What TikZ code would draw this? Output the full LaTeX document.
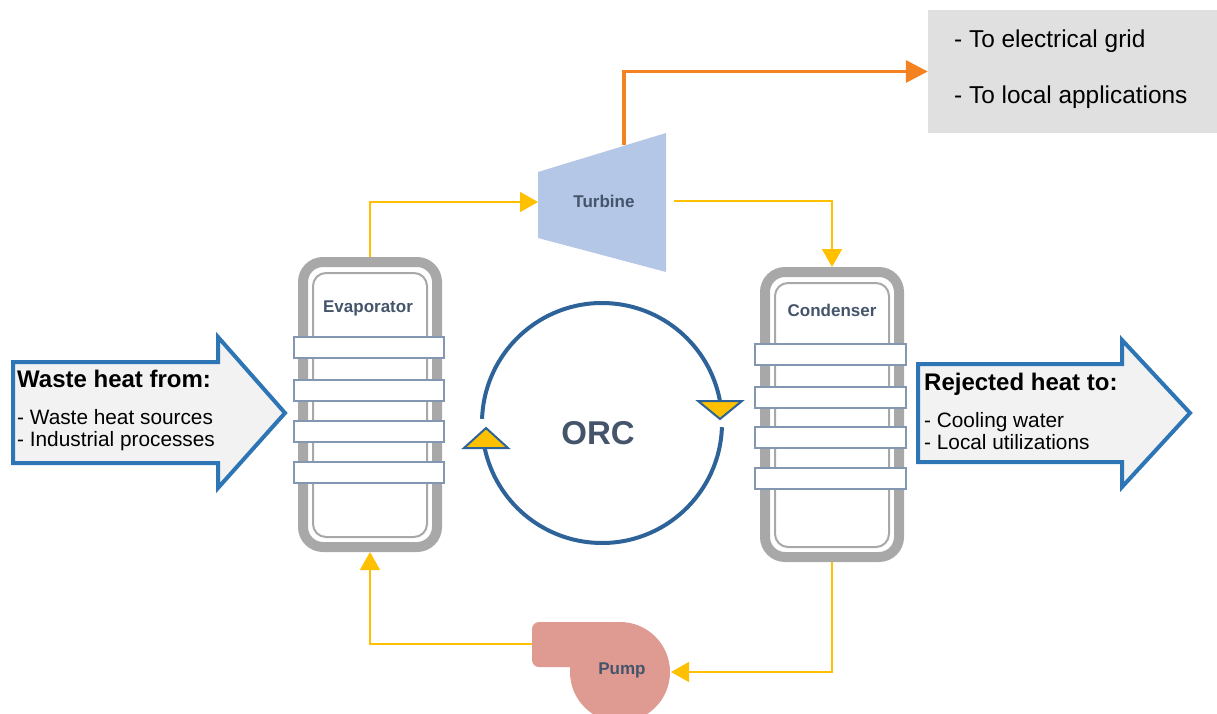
\documentclass[tikz,border=0pt]{standalone}
\usepackage{fontspec}
\setmainfont{Liberation Sans}
\usetikzlibrary{arrows.meta}
\definecolor{flowyellow}{RGB}{255,192,0}
\definecolor{powerorange}{RGB}{245,130,32}
\definecolor{orcblue}{RGB}{46,99,153}
\definecolor{heatblue}{RGB}{46,117,182}
\definecolor{slate}{RGB}{68,84,106}
\definecolor{vesselgray}{RGB}{168,168,168}
\definecolor{finblue}{RGB}{132,151,176}
\definecolor{turbfill}{RGB}{180,199,231}
\definecolor{pumpfill}{RGB}{223,154,146}
\definecolor{boxgray}{RGB}{224,224,224}
\definecolor{arrowfill}{RGB}{242,242,242}

\begin{document}
\begin{tikzpicture}[x=1pt,y=-1pt,
  unitname/.style={font=\fontsize{17}{20}\selectfont\bfseries,text=slate},
  vessel/.style={draw=vesselgray,line width=10pt,rounded corners=20pt,minimum width=134pt,minimum height=285pt,inner sep=0pt},
  vesselin/.style={draw=vesselgray,line width=2pt,rounded corners=13pt,minimum width=114pt,minimum height=264pt,inner sep=0pt},
  fin/.style={draw=finblue,line width=2pt,fill=white},
  flow/.style={draw=flowyellow,line width=1.5pt,-{Triangle[length=18pt,width=20pt]}},
  power/.style={draw=powerorange,line width=3.5pt,-{Triangle[length=22pt,width=22pt]}},
  cyc/.style={draw=orcblue,line width=4pt},
  cyctip/.style={fill=flowyellow,draw=orcblue,line width=2pt,line join=miter},
  heat/.style={draw=heatblue,line width=4pt,fill=arrowfill,line join=miter},
  head/.style={font=\fontsize{24}{28}\selectfont\bfseries,anchor=base west,inner sep=0pt},
  item/.style={font=\fontsize{20.8}{24}\selectfont,anchor=base west,inner sep=0pt},
  outlet/.style={font=\fontsize{24.4}{28}\selectfont,anchor=base west,inner sep=0pt}]
\useasboundingbox (0,0) rectangle (1217,714);

\node[fill=boxgray,minimum width=289pt,minimum height=123pt] (grid) at (1072.5,71.5) {};
\node[outlet] (gridA) at (954,48) {- To electrical grid};
\node[outlet] (gridB) at (954,104) {- To local applications};

\fill[turbfill] (538,172) -- (666,133) -- (666,272) -- (538,238) -- cycle;
\node[unitname] (turb) at (604,201) {Turbine};
\coordinate (turbin) at (538,202);
\coordinate (turbout) at (674,201);
\coordinate (shaft) at (624,145);

\node[vessel] (evap) at (370,404.5) {};
\node[vesselin] (evapin) at (370,405) {};
\foreach \y in {337,380,421,462}
  \draw[fin] (294,\y) rectangle ++(150,21);
\node[unitname] (evaplab) at (368,308) {Evaporator};

\node[vessel] (cond) at (832,414.5) {};
\node[vesselin] (condin) at (832,415) {};
\foreach \y in {344,387,427,468}
  \draw[fin] (755,\y) rectangle ++(151,21);
\node[unitname] (condlab) at (832,310) {Condenser};

\fill[pumpfill,rounded corners=7pt] (532,622) rectangle (620,667);
\fill[pumpfill] (620,672) circle[radius=50pt];
\node[unitname] (pump) at (622,670) {Pump};
\coordinate (pumpin) at (671,672);
\coordinate (pumpout) at (532,644);

\draw[flow] (evap.north) |- (turbin);
\draw[flow] (turbout) -| (cond.north);
\draw[flow] (cond.south) |- (pumpin);
\draw[flow] (pumpout) -| (evap.south);
\draw[power] (shaft) |- (grid.west);

\coordinate (orc) at (602,423);
\draw[cyc] (orc) ++(178:120pt) arc[start angle=178,end angle=11,radius=120pt];
\draw[cyc] (orc) ++(-2:120pt) arc[start angle=-2,end angle=-168,radius=120pt];
\draw[cyctip] (464,448) -- (486,428) -- (508,448) -- cycle;
\draw[cyctip] (698,401) -- (742,401) -- (720,419) -- cycle;
\node[font=\fontsize{33}{38}\selectfont\bfseries,text=slate] (orclab) at (598,433) {ORC};

\draw[heat] (13,362) -- (218,362) -- (218,337) -- (285,413) -- (218,488) -- (218,463) -- (13,463) -- cycle;
\node[head] (wasteA) at (17,387) {Waste heat from:};
\node[item] (wasteB) at (17,424) {- Waste heat sources};
\node[item] (wasteC) at (17,446) {- Industrial processes};

\draw[heat] (918,364) -- (1122,364) -- (1122,340) -- (1190,413) -- (1122,487) -- (1122,462) -- (918,462) -- cycle;
\node[head] (rejA) at (924,390) {Rejected heat to:};
\node[item] (rejB) at (924,427) {- Cooling water};
\node[item] (rejC) at (924,449) {- Local utilizations};
\end{tikzpicture}
\end{document}
